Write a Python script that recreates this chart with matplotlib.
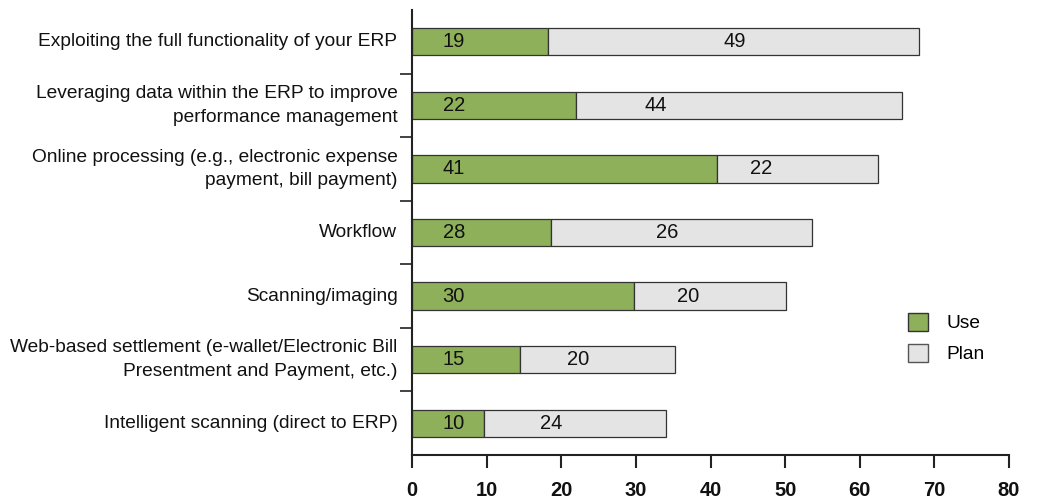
import matplotlib
matplotlib.use("Agg")
import matplotlib.pyplot as plt
from matplotlib.patches import Patch
import numpy as np

plt.rcParams['font.family'] = ['Liberation Sans Narrow', 'Liberation Sans', 'DejaVu Sans']

categories = [
    "Exploiting the full functionality of your ERP",
    "Leveraging data within the ERP to improve\nperformance management",
    "Online processing (e.g., electronic expense\npayment, bill payment)",
    "Workflow",
    "Scanning/imaging",
    "Web-based settlement (e-wallet/Electronic Bill\nPresentment and Payment, etc.)",
    "Intelligent scanning (direct to ERP)",
]
# bar lengths as drawn in the picture
use_len = [18.2, 22.0, 40.9, 18.6, 29.8, 14.5, 9.7]
plan_len = [49.8, 43.6, 21.6, 35.0, 20.3, 20.7, 24.3]
# printed value labels
use_labels = ["19", "22", "41", "28", "30", "15", "10"]
plan_labels = ["49", "44", "22", "26", "20", "20", "24"]
xticks = [0, 10, 20, 30, 40, 50, 60, 70, 80]

# layout: label positions (data units)
use_label_x = 5.6
plan_label_x = [43.3, 32.7, 46.8, 34.2, 37.0, 22.3, 18.6]

green = "#8FB05A"
grey = "#E4E4E4"
edge = "#333333"

fig = plt.figure(figsize=(10.37, 5.0), dpi=100)
ax = fig.add_axes([412/1037, 45/500, 597/1037, 445/500])

y = np.arange(len(categories))
h = 0.43
ax.barh(y, use_len, height=h, color=green, edgecolor=edge, linewidth=0.9, label="Use")
ax.barh(y, plan_len, left=use_len, height=h, color=grey, edgecolor=edge, linewidth=0.9, label="Plan")

fs = 13.8
for i in range(len(categories)):
    ax.text(use_label_x, y[i], use_labels[i], ha="center", va="center", fontsize=14.5, color="#111111")
    ax.text(plan_label_x[i], y[i], plan_labels[i], ha="center", va="center", fontsize=14.5, color="#111111")

ax.set_ylim(len(categories) - 0.5, -0.5)
ax.set_xlim(0, 80)
ax.set_yticks(y)
ax.set_yticklabels(categories, fontsize=fs, color="#111111", linespacing=1.5)
for t in ax.get_yticklabels():
    t.set_verticalalignment("center")
ax.set_yticks(np.arange(0.5, len(categories) - 0.5, 1.0), minor=True)
ax.tick_params(axis="y", which="major", length=0, pad=10.5)
ax.tick_params(axis="y", which="minor", length=8.6, width=1.2, color="#222222", direction="out")
ax.set_xticks(xticks)
ax.set_xticklabels([str(t) for t in xticks], fontsize=14.5, fontweight="bold", color="#111111")
ax.tick_params(axis="x", length=9.4, width=1.5, color="#222222", direction="out", pad=9)

for s in ["top", "right"]:
    ax.spines[s].set_visible(False)
for s in ["left", "bottom"]:
    ax.spines[s].set_linewidth(1.5)
    ax.spines[s].set_color("#222222")

handles = [Patch(facecolor=green, edgecolor="#333333", label="Use"),
           Patch(facecolor=grey, edgecolor="#555555", label="Plan")]
fig.legend(handles=handles, loc="upper left", bbox_to_anchor=(908/1037, 1 - 313/500),
           frameon=False, fontsize=fs, handlelength=1.05, handleheight=1.05,
           handletextpad=0.95, labelspacing=0.6, borderpad=0, borderaxespad=0)

fig.savefig("out.png", dpi=100)
